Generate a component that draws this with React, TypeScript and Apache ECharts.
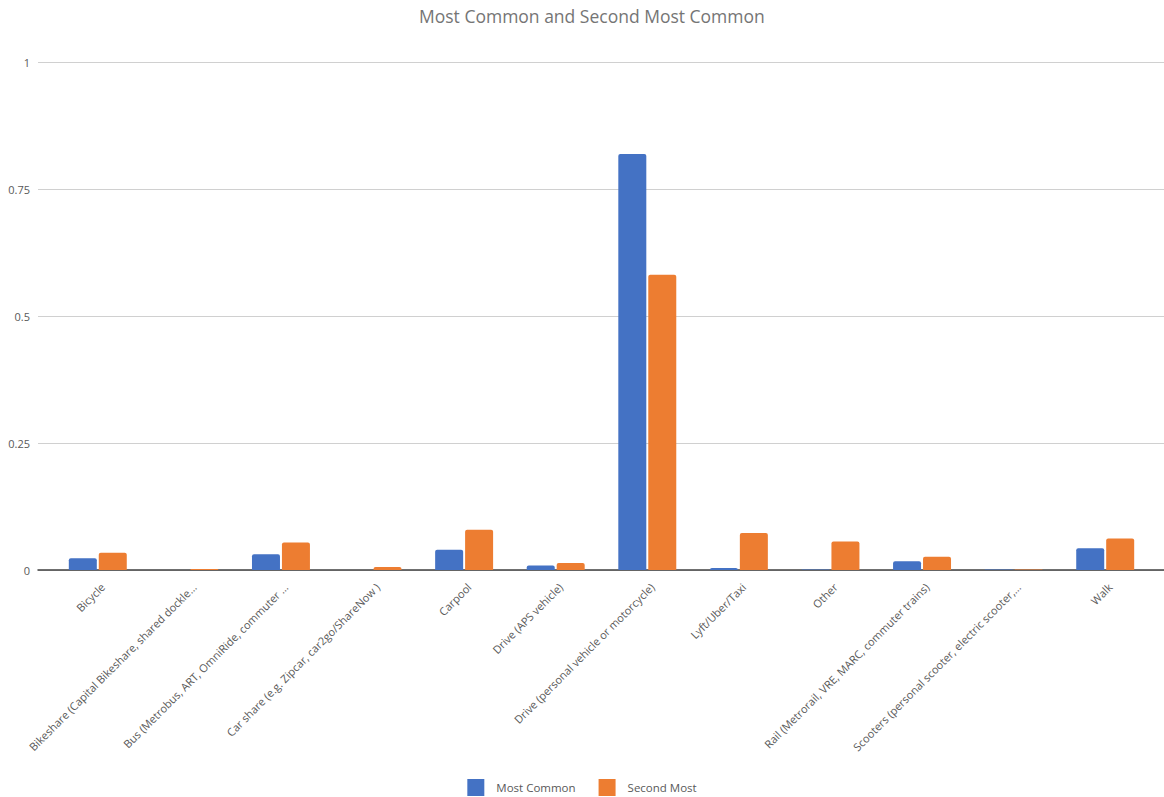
import React, { useEffect, useRef } from "react";
import * as echarts from "echarts";

const categories = [
  "Bicycle",
  "Bikeshare (Capital Bikeshare, shared dockle...",
  "Bus (Metrobus, ART, OmniRide, commuter ...",
  "Car share (e.g. Zipcar, car2go/ShareNow )",
  "Carpool",
  "Drive (APS vehicle)",
  "Drive (personal vehicle or motorcycle)",
  "Lyft/Uber/Taxi",
  "Other",
  "Rail (Metrorail, VRE, MARC, commuter trains)",
  "Scooters (personal scooter, electric scooter,...",
  "Walk",
];

const mostCommon = [0.023, 0, 0.031, 0, 0.04, 0.009, 0.819, 0.004, 0.001, 0.017, 0.001, 0.043];
const secondMost = [0.034, 0.002, 0.054, 0.006, 0.079, 0.014, 0.581, 0.073, 0.056, 0.026, 0.001, 0.062];

const yTicks = [0, 0.25, 0.5, 0.75, 1];

export default function App() {
  const ref = useRef<HTMLDivElement>(null);
  useEffect(() => {
    document.body.style.margin = "0";
    if (!ref.current) return;
    const chart = echarts.init(ref.current, undefined, { renderer: "svg" });
    const font = "'Open Sans', 'Noto Sans', sans-serif";
    const yMin = yTicks[0];
    const yMax = yTicks[yTicks.length - 1];
    chart.setOption({
      animation: false,
      textStyle: { fontFamily: font },
      title: {
        text: "Most Common and Second Most Common",
        left: 414,
        top: 2,
        textStyle: { fontSize: 17.5, fontWeight: "normal", color: "#757575", fontFamily: font },
      },
      legend: {
        bottom: 1,
        left: "center",
        padding: 0,
        itemWidth: 17,
        itemHeight: 17,
        itemGap: 23,
        icon: "rect",
        textStyle: { fontSize: 11.5, color: "#595959", fontFamily: font, padding: [0, 0, 0, 7] },
        data: ["Most Common", "Second Most"],
      },
      grid: [
        { left: 38, right: 0, top: 62, bottom: 227, containLabel: false },
        { left: 52, right: 13, top: 62, bottom: 227, containLabel: false },
        { left: 57, right: 8, top: 62, bottom: 227, containLabel: false },
      ],
      xAxis: [
        {
          gridIndex: 0,
          type: "value",
          min: 0,
          max: 1,
          axisLine: { show: true, onZero: false, lineStyle: { color: "#404040", width: 1.5 } },
          axisTick: { show: false },
          axisLabel: { show: false },
          splitLine: { show: false },
        },
        {
          gridIndex: 1,
          type: "category",
          data: categories,
          axisLine: { show: false },
          axisTick: { show: false },
          axisLabel: { show: false },
        },
        {
          gridIndex: 2,
          type: "category",
          data: categories,
          axisLine: { show: false },
          axisTick: { show: false },
          axisLabel: {
            rotate: 45,
            interval: 0,
            fontSize: 11,
            color: "#595959",
            fontFamily: font,
            margin: 15,
          },
        },
      ],
      yAxis: [
        {
          gridIndex: 0,
          type: "value",
          min: yMin,
          max: yMax,
          interval: 0.25,
          axisLine: { show: false },
          axisTick: { show: false },
          splitLine: { lineStyle: { color: "#d0d0d0", width: 1 } },
          axisLabel: {
            fontSize: 11,
            color: "#595959",
            fontFamily: font,
            margin: 8,
            formatter: (v: number) => String(v),
          },
        },
        {
          gridIndex: 1,
          type: "value",
          min: yMin,
          max: yMax,
          interval: 0.25,
          show: false,
          splitLine: { show: false },
        },
        {
          gridIndex: 2,
          type: "value",
          min: yMin,
          max: yMax,
          interval: 0.25,
          show: false,
          splitLine: { show: false },
        },
      ],
      series: [
        {
          name: "Most Common",
          type: "bar",
          xAxisIndex: 1,
          yAxisIndex: 1,
          data: mostCommon,
          barWidth: 28,
          barGap: "7%",
          itemStyle: { color: "#4472C4", borderRadius: [2, 2, 0, 0] },
        },
        {
          name: "Second Most",
          type: "bar",
          xAxisIndex: 1,
          yAxisIndex: 1,
          data: secondMost,
          barWidth: 28,
          barGap: "7%",
          itemStyle: { color: "#ED7D31", borderRadius: [2, 2, 0, 0] },
        },
      ],
    });
    return () => chart.dispose();
  }, []);
  return <div ref={ref} style={{ width: 1164, height: 797 }} />;
}
